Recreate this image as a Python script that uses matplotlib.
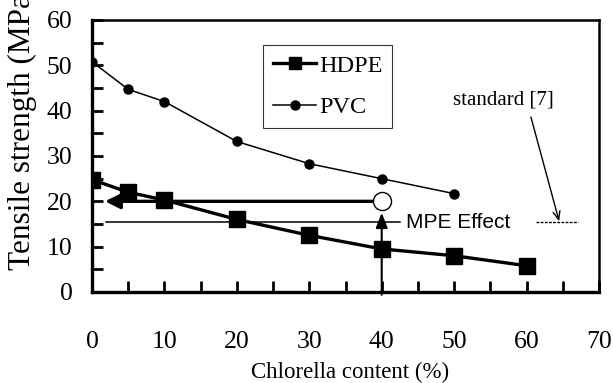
import matplotlib
matplotlib.use("Agg")
import matplotlib.pyplot as plt
from matplotlib.lines import Line2D

# Data
chlorella = [0, 5, 10, 20, 30, 40, 50, 60]
hdpe = [24.8, 22.0, 20.3, 16.0, 12.5, 9.5, 8.0, 5.8]
pvc_x = [0, 5, 10, 20, 30, 40, 50]
pvc = [50.8, 44.7, 42.0, 33.2, 28.3, 25.0, 21.7]

x_ticks = [0, 10, 20, 30, 40, 50, 60, 70]
y_ticks = [0, 10, 20, 30, 40, 50, 60]

# annotation values
mpe_x, mpe_y = 40, 20
standard_y = 15.4

serif = "Liberation Serif"
sans = "Liberation Sans"

fig = plt.figure(figsize=(6.13, 3.83), dpi=100)
ax = fig.add_axes([92 / 613, 1 - 292 / 383, 507 / 613, 272 / 383])

ax.plot(chlorella, hdpe, color="black", lw=2.4, marker="s", ms=12, zorder=3)
ax.plot(pvc_x, pvc, color="black", lw=1.1, marker="o", ms=6.5, zorder=3)

# MPE effect arrows
ax.annotate("", xy=(1.8, mpe_y), xytext=(mpe_x - 1.3, mpe_y),
            arrowprops=dict(arrowstyle="-|>,head_length=0.9,head_width=0.45",
                            lw=2.4, color="black", shrinkA=0, shrinkB=0))
ax.annotate("", xy=(mpe_x, mpe_y - 2.5), xytext=(mpe_x, -0.6),
            arrowprops=dict(arrowstyle="-|>,head_length=0.9,head_width=0.35",
                            lw=1.5, color="black", shrinkA=0, shrinkB=0),
            annotation_clip=False)
ax.plot([mpe_x], [mpe_y], marker="o", ms=13, mfc="white", mec="black",
        mew=1.0, zorder=4)

# standard line
ax.plot([2, 42.5], [standard_y, standard_y], color="black", lw=1.1)
ax.plot([61.3, 67.1], [standard_y, standard_y], color="black", lw=1.0,
        ls=(0, (2, 1)))
ax.text(43.3, standard_y, "MPE Effect", fontsize=15, family=sans,
        va="center", ha="left")
ax.text(49.9, 42.4, "standard [7]", fontsize=15, family=serif,
        va="center", ha="left")
ax.annotate("", xy=(64.5, standard_y + 0.2), xytext=(60.6, 38.6),
            arrowprops=dict(arrowstyle="->,head_length=0.6,head_width=0.25",
                            lw=1.0, color="black", shrinkA=0, shrinkB=0))

ax.set_xlim(0, 70)
ax.set_ylim(0, 60)
ax.set_xticks(x_ticks)
ax.set_yticks(y_ticks)
ax.set_xticks(range(5, 70, 10), minor=True)
ax.set_yticks(range(5, 60, 10), minor=True)
ax.set_xticklabels([str(v) for v in x_ticks], fontsize=18.5, family=serif)
ax.set_yticklabels([str(v) for v in y_ticks], fontsize=18.5, family=serif)
ax.tick_params(axis="both", which="both", direction="in", length=8,
               width=2, color="black")
ax.tick_params(axis="x", which="major", pad=28)
ax.tick_params(axis="y", which="major", pad=14)
ax.tick_params(top=False, right=False, which="both")

for side in ["left", "bottom"]:
    ax.spines[side].set_linewidth(2.4)
for side in ["top", "right"]:
    ax.spines[side].set_linewidth(1.8)

handles = [
    Line2D([], [], color="black", lw=2.4, marker="s", ms=9),
    Line2D([], [], color="black", lw=1.1, marker="o", ms=6.5),
]
leg = ax.legend(handles, ["HDPE", "PVC"], loc="upper left",
                bbox_to_anchor=((263 - 92) / 507, 1 - (45 - 20) / 272),
                prop={"family": serif, "size": 17.5}, frameon=True,
                fancybox=False, edgecolor="black", handlelength=1.8,
                handletextpad=0.1, borderpad=0.4, labelspacing=0.8,
                borderaxespad=0)
leg.get_frame().set_linewidth(0.8)

fig.text(350 / 613, 1 - 372 / 383, "Chlorella content (%)", fontsize=16.5,
         family=serif, ha="center", va="center")
fig.text(22 / 613, 1 - 270 / 383, "Tensile strength (MPa)", fontsize=22.5,
         family=serif, ha="center", va="bottom", rotation=90)

fig.savefig("out.png", dpi=100)
